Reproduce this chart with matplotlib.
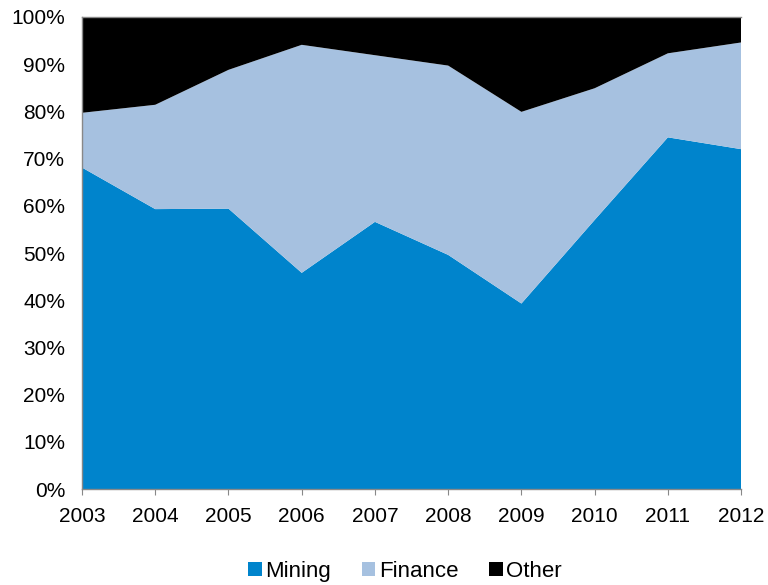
import matplotlib.pyplot as plt
import numpy as np

plt.rcParams['font.family'] = ['Liberation Sans', 'DejaVu Sans']

years = [2003, 2004, 2005, 2006, 2007, 2008, 2009, 2010, 2011, 2012]
# percent shares
mining = [68.1, 59.3, 59.4, 45.8, 56.6, 49.6, 39.3, 57.0, 74.5, 72.0]
finance = [11.6, 22.1, 29.4, 48.3, 35.3, 40.1, 40.6, 27.9, 17.8, 22.6]
other = [20.3, 18.6, 11.2, 5.9, 8.1, 10.3, 20.1, 15.1, 7.7, 5.4]

colors = ['#0084CC', '#A6C1E0', '#000000']
labels = ['Mining', 'Finance', 'Other']

fig = plt.figure(figsize=(7.68, 5.85), dpi=100)
ax = fig.add_axes([0.1068, 0.164, 0.8582, 0.807])

ax.stackplot(years, mining, finance, other, colors=colors, labels=labels, linewidth=0)

ax.set_xlim(2003, 2012)
ax.set_ylim(0, 100)
ax.set_xticks(years)
ax.set_yticks(np.arange(0, 101, 10))
ax.set_yticklabels([f'{v}%' for v in range(0, 101, 10)])
ax.tick_params(axis='both', labelsize=15, colors='black')
ax.tick_params(axis='y', length=0, pad=12)
ax.tick_params(axis='x', length=4, color='#888888', pad=9)

for s in ['left', 'bottom', 'top']:
    ax.spines[s].set_color('#888888')
    ax.spines[s].set_linewidth(1)
ax.spines['right'].set_visible(False)

ax.legend(loc='upper center', bbox_to_anchor=(0.49, -0.11), ncol=3, frameon=False,
          fontsize=16, handlelength=0.6, handleheight=0.6, handletextpad=0.15,
          columnspacing=1.4)

fig.savefig('out.png', dpi=100)
